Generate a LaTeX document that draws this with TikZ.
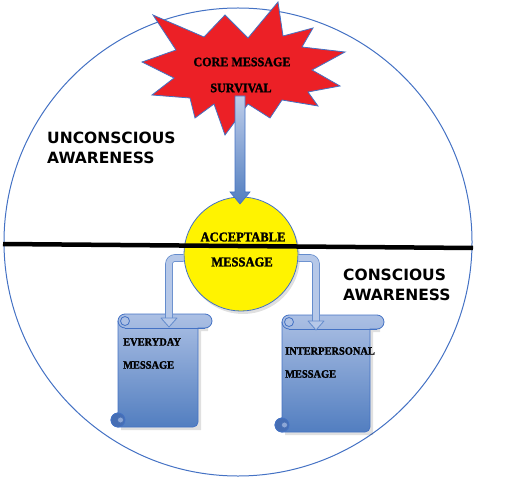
\documentclass[tikz,border=0pt]{standalone}
\usepackage{fontspec}
\setmainfont{Liberation Serif}
\newfontfamily\heavy{Liberation Serif}[UprightFont=* Bold, FakeBold=1.6, FakeStretch=0.93]
\newfontfamily\gothic{DejaVu Sans}
\definecolor{circline}{RGB}{68,114,196}
\definecolor{starred}{RGB}{236,32,38}
\definecolor{accyellow}{RGB}{255,243,0}
\definecolor{scrolltop}{RGB}{172,192,228}
\definecolor{scrollbot}{RGB}{82,126,192}
\definecolor{scrolldark}{RGB}{70,110,180}
\definecolor{elbowedge}{RGB}{100,140,205}
\definecolor{elbowfill}{RGB}{182,200,232}
\definecolor{arrowtop}{RGB}{190,205,234}
\tikzset{
  x=1pt,y=-1pt,
  bigcircle/.style={draw=circline,line width=1pt},
  starshape/.style={fill=starred,draw=circline,line width=0.8pt},
  accnode/.style={circle,fill=accyellow,draw=circline,line width=0.8pt,minimum size=114pt,inner sep=0pt},
  serifbold/.style={font=\heavy\fontsize{13}{15}\selectfont,inner sep=0pt},
  scrolltxt/.style={font=\heavy\fontsize{11.2}{13}\selectfont,inner sep=0pt,anchor=west},
  gothlbl/.style={font=\gothic\bfseries\fontsize{15.5}{18}\selectfont,inner sep=0pt,anchor=west},
  scrollfill/.style={top color=scrolltop,bottom color=scrollbot,draw=circline,line width=0.8pt},
  downarrow/.style={top color=arrowtop,bottom color=scrollbot,draw=circline,line width=0.6pt},
  elbow/.style={draw=elbowedge,line width=0.8pt,double=elbowfill,double distance=6pt,rounded corners=6pt},
  elbowhead/.style={fill=elbowfill,draw=elbowedge,line width=0.8pt,line join=round},
  softshadow/.style={fill=black,opacity=0.12},
}
\newcommand{\myscroll}[2]{%
  \fill[softshadow] (9,3) -- ({#1+10},3) -- ({#1+10},17) -- ({#1+3},17) -- ({#1+3},{#2+3}) -- (3,{#2+3}) -- cycle;
  \shade[scrollfill] (7,0) -- ({#1+7},0) arc[start angle=-90,end angle=90,radius=7]
    -- (#1,14) -- (#1,{#2-5}) arc[start angle=0,end angle=90,radius=5]
    -- (0,#2) arc[start angle=90,end angle=270,radius=7]
    -- (0,7) arc[start angle=180,end angle=270,radius=7] -- cycle;
  \draw[circline,line width=0.8pt] (7,14) -- ({#1+7},14);
  \filldraw[fill=scrolltop,draw=circline,line width=0.8pt] (7,7) circle[radius=4.5];
  \draw[circline,line width=0.8pt] (0,7) arc[start angle=180,end angle=90,radius=7];
  \filldraw[fill=scrolldark,draw=circline,line width=0.8pt] (0,{#2-7}) circle[radius=7];
  \filldraw[fill=scrolltop!70!scrolldark,draw=scrolldark,line width=0.6pt] (2.5,{#2-7}) circle[radius=3];
}
\begin{document}
\begin{tikzpicture}
\useasboundingbox (0,0) rectangle (521,494);
% big circle
\draw[bigcircle] (238,242) circle[radius=234];
% starburst
\draw[starshape] (225,15) -- (248,38) -- (278,2) -- (283,36) -- (313,28) -- (302,47)
  -- (345,52) -- (312,70) -- (340,86) -- (308,92) -- (318,106) -- (282,100)
  -- (270,118) -- (248,104) -- (225,135) -- (214,104) -- (195,118) -- (190,98)
  -- (152,95) -- (174,78) -- (142,62) -- (176,50) -- (153,15) -- (204,37) -- cycle;
\node[serifbold] (core1) at (242,62) {CORE MESSAGE};
\node[serifbold] (core2) at (241,88) {SURVIVAL};
% acceptable circle
\fill[softshadow] (243,257) circle[radius=57];
\node[accnode] (acc) at (241,254) {};
% down arrow
\coordinate (dtop) at (240,96);
\coordinate (dtip) at (240,204);
\shade[downarrow] ([xshift=-5pt]dtop) -- ([xshift=5pt]dtop) -- ([xshift=5pt,yshift=12pt]dtip)
  -- ([xshift=10pt,yshift=12pt]dtip) -- (dtip) -- ([xshift=-10pt,yshift=12pt]dtip)
  -- ([xshift=-5pt,yshift=12pt]dtip) -- cycle;
% dividing line
\coordinate (lineL) at (3,244);
\coordinate (lineR) at (473,248);
\draw[line width=4.5pt,black] (lineL) -- (lineR);
\node[serifbold,font=\heavy\fontsize{13.5}{15}\selectfont] (acc1) at (243,237) {ACCEPTABLE};
\node[serifbold,font=\heavy\fontsize{13.5}{15}\selectfont] (acc2) at (242,262) {MESSAGE};
% scrolls
\begin{scope}[shift={(118,314)}]
  \myscroll{80}{113}
\end{scope}
\begin{scope}[shift={(282,315)}]
  \myscroll{88}{117}
\end{scope}
\node[scrolltxt] (ev1) at (123,342) {EVERYDAY};
\node[scrolltxt] (ev2) at (123,365) {MESSAGE};
\node[scrolltxt] (ip1) at (285,351) {INTERPERSONAL};
\node[scrolltxt] (ip2) at (285,374) {MESSAGE};
% elbow arrows
\coordinate (h1) at (169,318);
\coordinate (t1) at (169,327);
\coordinate (h2) at (316,321);
\coordinate (t2) at (316,330);
\draw[elbow] (acc.184) -| (h1);
\draw[elbowhead] ([xshift=-8pt]h1) -- ([xshift=8pt]h1) -- (t1) -- cycle;
\draw[elbow] (acc.-4) -| (h2);
\draw[elbowhead] ([xshift=-8pt]h2) -- ([xshift=8pt]h2) -- (t2) -- cycle;
% awareness labels
\node[gothlbl] (un1) at (47,138) {UNCONSCIOUS};
\node[gothlbl] (un2) at (47,158) {AWARENESS};
\node[gothlbl] (co1) at (343,275) {CONSCIOUS};
\node[gothlbl] (co2) at (343,295) {AWARENESS};
\end{tikzpicture}
\end{document}
